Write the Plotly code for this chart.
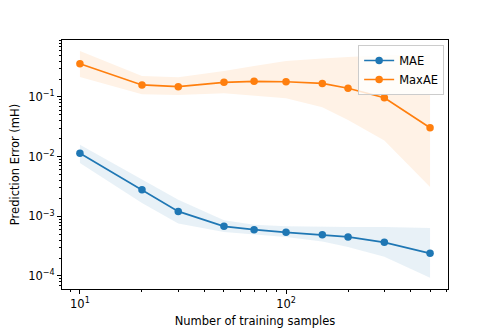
import plotly.graph_objects as go

#   Data
samples = [10, 20, 30, 50, 70, 100, 150, 200, 300, 500]

mae = [0.0114, 0.0028, 0.00121, 0.00068, 0.000598, 0.00054, 0.000493, 0.000451, 0.000367, 0.00024]
mae_hi = [0.0159, 0.00423, 0.0019, 0.000857, 0.00072, 0.00068, 0.000663, 0.000663, 0.000663, 0.000638]
mae_lo = [0.0078, 0.00167, 0.00076, 0.000548, 0.000493, 0.00045, 0.00038, 0.000307, 0.00021, 0.000093]

maxae = [0.361, 0.159, 0.149, 0.176, 0.183, 0.180, 0.169, 0.140, 0.097, 0.0306]
maxae_hi = [0.59, 0.225, 0.214, 0.273, 0.33, 0.40, 0.44, 0.47, 0.50, 0.51]
maxae_lo = [0.216, 0.111, 0.108, 0.115, 0.105, 0.095, 0.067, 0.041, 0.0186, 0.0031]

blue = '#1f77b4'
orange = '#ff7f0e'

fig = go.Figure()

#   Shaded bands
for lo, hi, fc in [(mae_lo, mae_hi, 'rgba(31,119,180,0.1)'),
                   (maxae_lo, maxae_hi, 'rgba(255,127,14,0.1)')]:
    fig.add_trace(go.Scatter(
        x = samples + samples[::-1],
        y = hi + lo[::-1],
        fill = 'toself', fillcolor = fc,
        line = dict(width = 0), mode = 'lines',
        hoverinfo = 'skip', showlegend = False
    ))

#   Lines with markers
for name, vals, col in [('MAE', mae, blue), ('MaxAE', maxae, orange)]:
    fig.add_trace(go.Scatter(
        x = samples, y = vals, name = name,
        mode = 'lines+markers',
        line = dict(color = col, width = 1.7),
        marker = dict(color = col, size = 7.5)
    ))

#   Minor tick positions
def minors(lo, hi):
    return [m * 10 ** e for e in range(lo, hi) for m in range(2, 10)]

fs = 11.5

axis_common = dict(
    type = 'log', showgrid = False, zeroline = False, automargin = False,
    showline = True, linecolor = 'black', linewidth = 1, mirror = True,
    ticks = 'outside', ticklen = 4, tickwidth = 0.9, tickcolor = 'black',
    tickfont = dict(size = fs, color = 'black'),
)

#   Page body has an 8px margin, so the figure is 8px smaller
fig.update_layout(
    width = 490, height = 324,
    margin = dict(l = 54, r = 50, t = 32, b = 43),
    paper_bgcolor = 'white', plot_bgcolor = 'white',
    font = dict(family = 'DejaVu Sans', size = fs, color = 'black'),
    showlegend = True,
    legend = dict(
        x = 0.99, y = 0.98, xanchor = 'right', yanchor = 'top',
        bgcolor = 'rgba(255,255,255,0.8)', bordercolor = '#cccccc', borderwidth = 1,
        font = dict(size = fs), itemwidth = 30, tracegroupgap = 0
    ),
    xaxis = dict(
        axis_common,
        range = [0.913, 2.786],
        tickvals = [10, 100], ticktext = ['10<sup>1</sup>', '10<sup>2</sup>'],
        minor = dict(tickvals = minors(0, 3), ticks = 'outside', ticklen = 2.3, tickcolor = 'black', tickwidth = 0.7),
        title = dict(text = 'Number of training samples', font = dict(size = fs), standoff = 7),
    ),
    yaxis = dict(
        axis_common,
        range = [-4.218, -0.045],
        tickvals = [1e-4, 1e-3, 1e-2, 1e-1],
        ticktext = ['10<sup>−4</sup>', '10<sup>−3</sup>', '10<sup>−2</sup>', '10<sup>−1</sup>'],
        minor = dict(tickvals = minors(-5, 0), ticks = 'outside', ticklen = 2.3, tickcolor = 'black', tickwidth = 0.7),
        title = dict(text = 'Prediction Error (mH)', font = dict(size = fs), standoff = 7),
    ),
)

fig.write_html("out.html")
